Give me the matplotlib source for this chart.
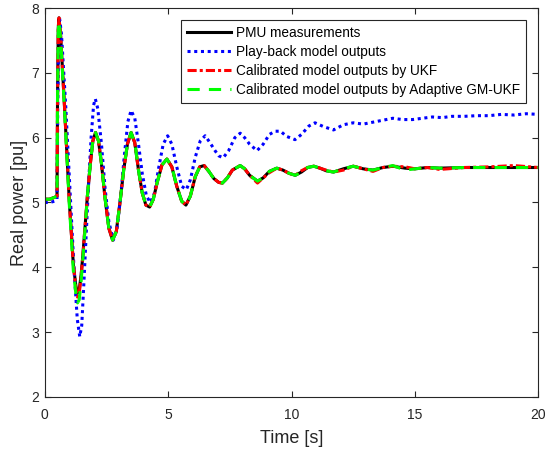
import numpy as np
import matplotlib
matplotlib.use("Agg")
import matplotlib.pyplot as plt

plt.rcParams['font.family'] = ['Liberation Sans', 'DejaVu Sans']

# time base of PMU / calibrated outputs [s]
t_pmu = [0, 0.2, 0.4, 0.5, 0.52, 0.55, 0.58, 0.65, 0.8, 1.0, 1.16, 1.26,
         1.33, 1.4, 1.48, 1.55, 1.64, 1.73, 1.85, 1.95, 2.06, 2.18, 2.3, 2.45,
         2.6, 2.75, 2.9, 3.05, 3.2, 3.35, 3.5, 3.65, 3.8, 3.95, 4.1, 4.25,
         4.4, 4.55, 4.75, 4.95, 5.15, 5.35, 5.55, 5.72, 5.9, 6.1, 6.28, 6.46,
         6.65, 6.85, 7.05, 7.2, 7.4, 7.6, 7.92, 8.1, 8.3, 8.62, 8.85, 9.1,
         9.4, 9.65, 9.9, 10.15, 10.4, 10.65, 10.9, 11.15, 11.4, 11.7, 12.1, 12.5,
         12.9, 13.3, 13.7, 14.1, 14.6, 15.0, 15.5, 16.0, 17.0, 18.0, 19.0, 20.0]

pmu = [5.05, 5.05, 5.08, 5.1, 6.6, 7.7, 7.85, 7.55, 6.5, 5.0, 4.05, 3.72,
       3.6, 3.65, 3.9, 4.2, 4.65, 5.1, 5.6, 5.95, 6.08, 5.95, 5.6, 5.05,
       4.6, 4.42, 4.55, 5.0, 5.5, 5.9, 6.08, 5.92, 5.5, 5.15, 4.96, 4.93,
       5.05, 5.3, 5.58, 5.67, 5.55, 5.25, 5.02, 4.96, 5.1, 5.4, 5.55, 5.57,
       5.48, 5.37, 5.31, 5.3, 5.38, 5.5, 5.57, 5.52, 5.42, 5.33, 5.38, 5.48,
       5.53, 5.5, 5.45, 5.42, 5.47, 5.54, 5.56, 5.53, 5.49, 5.47, 5.52, 5.56,
       5.52, 5.5, 5.54, 5.56, 5.53, 5.52, 5.54, 5.53, 5.54, 5.54, 5.54, 5.54]

ukf = [5.05, 5.05, 5.08, 5.1, 6.6, 7.7, 7.85, 7.55, 6.5, 5.0, 4.05, 3.68,
       3.54, 3.6, 3.88, 4.2, 4.65, 5.1, 5.6, 5.95, 6.08, 5.95, 5.6, 5.05,
       4.6, 4.42, 4.55, 5.0, 5.5, 5.9, 6.08, 5.92, 5.5, 5.15, 4.96, 4.93,
       5.05, 5.3, 5.58, 5.67, 5.55, 5.25, 5.02, 4.96, 5.1, 5.4, 5.55, 5.57,
       5.48, 5.37, 5.31, 5.3, 5.38, 5.5, 5.57, 5.52, 5.42, 5.3, 5.38, 5.46,
       5.53, 5.5, 5.45, 5.42, 5.49, 5.54, 5.56, 5.53, 5.5, 5.47, 5.5, 5.56,
       5.52, 5.48, 5.54, 5.56, 5.55, 5.52, 5.54, 5.51, 5.54, 5.55, 5.57, 5.54]

gm = [5.05, 5.05, 5.08, 5.1, 6.6, 7.65, 7.8, 7.5, 6.45, 4.95, 3.95, 3.6,
      3.45, 3.5, 3.8, 4.15, 4.62, 5.1, 5.6, 5.95, 6.08, 5.95, 5.6, 5.05,
      4.6, 4.42, 4.55, 5.0, 5.5, 5.9, 6.08, 5.92, 5.5, 5.15, 4.96, 4.93,
      5.05, 5.3, 5.58, 5.67, 5.55, 5.25, 5.02, 4.96, 5.1, 5.4, 5.55, 5.57,
      5.48, 5.37, 5.31, 5.3, 5.38, 5.5, 5.57, 5.52, 5.42, 5.33, 5.38, 5.48,
      5.53, 5.5, 5.45, 5.42, 5.47, 5.54, 5.56, 5.53, 5.49, 5.47, 5.52, 5.56,
      5.52, 5.5, 5.54, 5.57, 5.5, 5.52, 5.54, 5.53, 5.54, 5.54, 5.54, 5.54]

# play-back model output
t_pb = [0, 0.2, 0.4, 0.5, 0.53, 0.57, 0.6, 0.68, 0.85, 1.05, 1.2, 1.32,
        1.42, 1.5, 1.58, 1.68, 1.78, 1.88, 1.98, 2.05, 2.15, 2.3, 2.45, 2.6,
        2.78, 2.93, 3.08, 3.22, 3.37, 3.5, 3.65, 3.8, 3.95, 4.12, 4.28, 4.45,
        4.6, 4.8, 4.98, 5.15, 5.35, 5.55, 5.74, 5.9, 6.1, 6.3, 6.5, 6.7,
        6.9, 7.05, 7.23, 7.45, 7.7, 7.92, 8.1, 8.3, 8.6, 8.85, 9.1, 9.33,
        9.55, 9.8, 10.14, 10.4, 10.7, 10.95, 11.3, 11.7, 12.1, 12.5, 12.9, 13.3,
        13.7, 14.1, 14.5, 14.9, 15.3, 15.7, 16.1, 16.5, 17.0, 17.5, 18.0, 18.5,
        19.0, 19.5, 20.0]

pb = [5.0, 5.0, 5.02, 5.05, 6.5, 7.6, 7.85, 7.6, 6.5, 5.0, 3.9, 3.2,
      2.93, 3.1, 3.7, 4.5, 5.3, 6.0, 6.5, 6.6, 6.45, 5.9, 5.2, 4.7,
      4.42, 4.6, 5.1, 5.7, 6.25, 6.42, 6.3, 5.9, 5.45, 5.1, 5.0, 5.15,
      5.5, 5.9, 6.03, 5.9, 5.55, 5.25, 5.2, 5.35, 5.7, 5.95, 6.03, 5.92,
      5.8, 5.72, 5.69, 5.8, 6.0, 6.07, 6.0, 5.9, 5.8, 5.9, 6.05, 6.1,
      6.1, 6.02, 5.97, 6.05, 6.18, 6.23, 6.17, 6.12, 6.2, 6.23, 6.21, 6.24,
      6.27, 6.3, 6.28, 6.28, 6.3, 6.32, 6.31, 6.33, 6.33, 6.34, 6.34, 6.36,
      6.35, 6.37, 6.36]

labels = ["PMU measurements", "Play-back model outputs",
          "Calibrated model outputs by UKF",
          "Calibrated model outputs by Adaptive GM-UKF"]

fig = plt.figure(figsize=(5.45, 4.51), dpi=100)
ax = fig.add_axes([0.082, 0.12, 0.906, 0.862])

lw = 2.2
ax.plot(t_pmu, pmu, color="black", lw=lw, label=labels[0])
ax.plot(t_pb, pb, color="blue", lw=lw, dashes=(1, 1.2), label=labels[1])
ax.plot(t_pmu, ukf, color="red", lw=lw, dashes=(3, 1, 1, 1), label=labels[2])
ax.plot(t_pmu, gm, color="#00ff00", lw=lw, dashes=(4, 3), label=labels[3])

ax.set_xlim(0, 20)
ax.set_ylim(2, 8)
ax.set_xticks([0, 5, 10, 15, 20])
ax.set_yticks([2, 3, 4, 5, 6, 7, 8])
ax.tick_params(direction="in", top=True, right=True, length=4, width=0.8,
               labelsize=10, colors="#262626")
ax.tick_params(axis="x", pad=8)
ax.tick_params(axis="y", pad=4)
for s in ax.spines.values():
    s.set_color("#262626")
    s.set_linewidth(0.8)

ax.set_xlabel("Time [s]", fontsize=13, color="#262626", labelpad=6)
ax.set_ylabel("Real power [pu]", fontsize=13, color="#262626", labelpad=2)

leg = ax.legend(loc="upper right", bbox_to_anchor=(1 - 12 / 493.5, 1 - 12 / 389),
                borderaxespad=0, fontsize=9.8, fancybox=False, framealpha=1,
                edgecolor="#262626", handlelength=3.2, handletextpad=0.4,
                labelspacing=0.35, borderpad=0.45)
leg.get_frame().set_linewidth(0.8)

fig.savefig("out.png", dpi=100)
